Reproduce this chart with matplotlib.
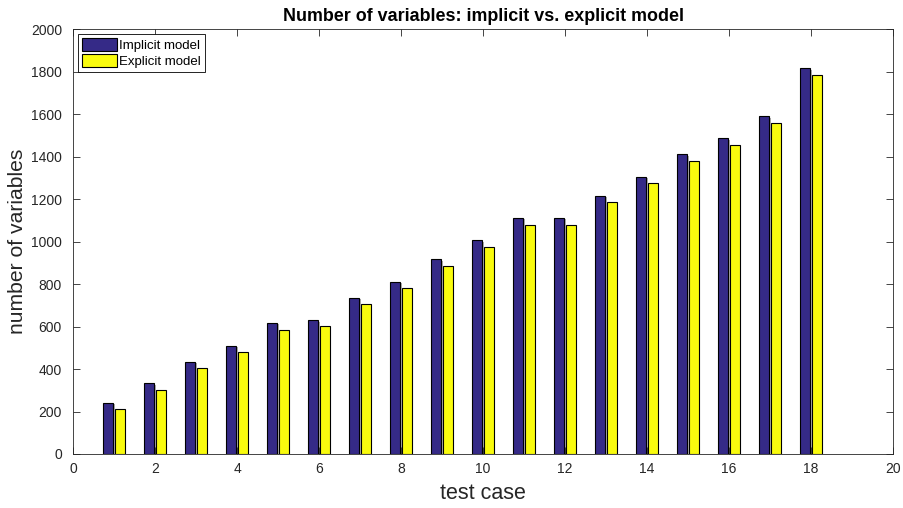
import numpy as np
import matplotlib.pyplot as plt
import matplotlib.patheffects as pe

plt.rcParams['font.family'] = ['Liberation Sans', 'DejaVu Sans']

cases = np.arange(1, 19)
implicit = [240, 332, 435, 510, 616, 630, 736, 811, 917, 1006,
            1111, 1111, 1215, 1305, 1410, 1485, 1590, 1815]
explicit = [210, 302, 405, 480, 585, 601, 706, 781, 886, 975,
            1080, 1080, 1186, 1276, 1379, 1454, 1560, 1783]

fig = plt.figure(figsize=(9.04, 5.08), dpi=100)
ax = fig.add_axes([0.0808, 0.1063, 0.907, 0.8366])

w = 0.24
off = 0.14
shadow = [pe.SimplePatchShadow(offset=(1, -1), shadow_rgbFace='0.6', alpha=0.8), pe.Normal()]
b1 = ax.bar(cases - off, implicit, w, color='#352a87', edgecolor='black', linewidth=0.8,
            label='Implicit model')
b2 = ax.bar(cases + off, explicit, w, color='#f9fb0e', edgecolor='black', linewidth=0.8,
            label='Explicit model')
for b in list(b1) + list(b2):
    b.set_path_effects(shadow)

ax.set_xlim(0, 20)
ax.set_ylim(0, 2000)
ax.set_xticks(np.arange(0, 21, 2))
ax.set_yticks(np.arange(0, 2001, 200))
ax.tick_params(direction='in', top=True, right=True, labelsize=10, length=5, width=0.6,
               colors='#262626')
ax.tick_params(axis='y', pad=8)
ax.tick_params(axis='x', pad=6)
for s in ax.spines.values():
    s.set_linewidth(0.6)
    s.set_color('#262626')

ax.set_title('Number of variables: implicit vs. explicit model', fontsize=12.9, fontweight='bold', pad=6)
ax.set_xlabel('test case', fontsize=15.5, labelpad=5, color='#262626')
ax.set_ylabel('number of variables', fontsize=15.2, color='#262626')
ax.yaxis.set_label_coords(-0.056, 0.5)

leg = ax.legend(loc='upper left', fontsize=9.5, fancybox=False, edgecolor='black',
                borderpad=0.3, handlelength=2.6, handleheight=1.1, handletextpad=0.2,
                labelspacing=0.15, borderaxespad=0.4, framealpha=1)
leg.get_frame().set_linewidth(0.6)

plt.savefig('out.png', dpi=100)
